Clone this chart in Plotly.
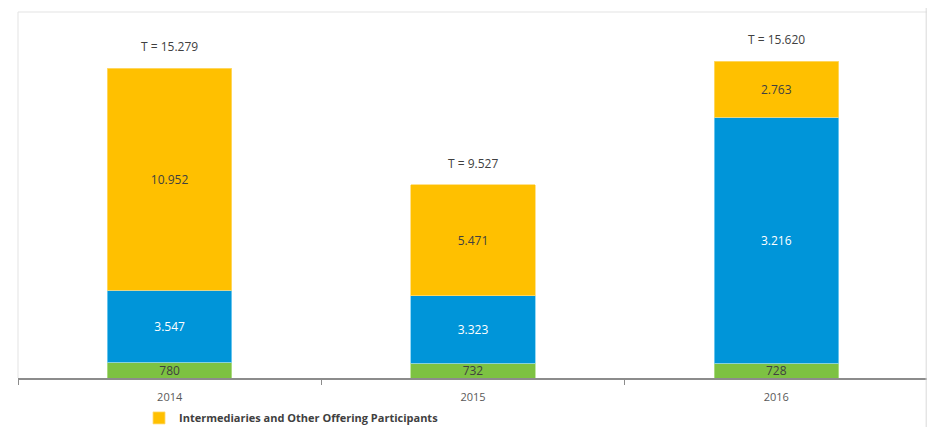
import plotly.graph_objects as go

years = ["2014", "2015", "2016"]

# values in thousands, heights
green_values = [0.780, 0.732, 0.728]
blue_values = [3.547, 3.323, 12.129]
yellow_values = [10.952, 5.471, 2.763]

green_labels = ["780", "732", "728"]
blue_labels = ["3.547", "3.323", "3.216"]
yellow_labels = ["10.952", "5.471", "2.763"]

totals = [15.279, 9.527, 15.620]
total_labels = ["T = 15.279", "T = 9.527", "T = 15.620"]

FONT = "Open Sans, Liberation Sans, sans-serif"
DARK = "#404040"

fig = go.Figure()
fig.add_bar(x=years, y=green_values, name="Issuers", marker_color="#7DC242",
            marker_line=dict(color="#B5E08F", width=0.8),
            text=green_labels, textposition="inside", insidetextanchor="middle",
            textangle=0, textfont=dict(color=DARK, size=12), showlegend=False)
fig.add_bar(x=years, y=blue_values, name="Investors", marker_color="#0095D9",
            marker_line=dict(color="#7FD0F2", width=0.8),
            text=blue_labels, textposition="inside", insidetextanchor="middle",
            textangle=0, textfont=dict(color="white", size=12), showlegend=False)
fig.add_bar(x=years, y=yellow_values, name="Intermediaries and Other Offering Participants",
            marker_color="#FFC000", marker_line=dict(color="#FFDB73", width=0.8),
            text=yellow_labels, textposition="inside", insidetextanchor="middle",
            textangle=0, textfont=dict(color=DARK, size=12))

# category axis: annotations use the category index
for i, (t, lab) in enumerate(zip(totals, total_labels)):
    fig.add_annotation(x=i, y=t, text=lab, showarrow=False, yanchor="bottom",
                       yshift=11, font=dict(size=12, color=DARK, family=FONT))

# light frame around the plot area and the right-hand edge line
fig.add_shape(type="line", xref="paper", yref="paper", x0=0, x1=0, y0=0, y1=1,
              line=dict(color="#E3E3E3", width=1))
fig.add_shape(type="line", xref="paper", yref="paper", x0=0, x1=1, y0=1, y1=1,
              line=dict(color="#E3E3E3", width=1))
fig.add_shape(type="line", xref="paper", yref="paper", x0=0.998, x1=0.998, y0=-0.14, y1=1.02,
              line=dict(color="#D9D9D9", width=1))

# page body adds an 8px offset, so the figure is sized to fill the rest of the window
fig.update_layout(
    width=927, height=419,
    barmode="stack", bargap=0.59,
    margin=dict(l=10, r=7, t=4, b=49, autoexpand=False),
    plot_bgcolor="white", paper_bgcolor="white",
    font=dict(family=FONT, size=11, color="#595959"),
    uniformtext=dict(minsize=8, mode="show"),
    legend=dict(orientation="h", x=0.133, xanchor="left", y=-0.109, yanchor="middle",
                font=dict(size=11, color=DARK, weight="bold"),
                itemwidth=30, bgcolor="rgba(0,0,0,0)"),
)
fig.update_xaxes(type="category", range=[-0.5, 2.5], showline=True, linecolor="#8C8C8C",
                 linewidth=1.5, ticks="outside", tickson="boundaries", ticklen=5,
                 tickcolor="#8C8C8C", showgrid=False, ticklabelstandoff=8,
                 automargin=False, tickfont=dict(size=11, color="#595959"))
fig.update_yaxes(range=[0, 18.04], visible=False, showgrid=False, automargin=False)

fig.write_html("out.html")
